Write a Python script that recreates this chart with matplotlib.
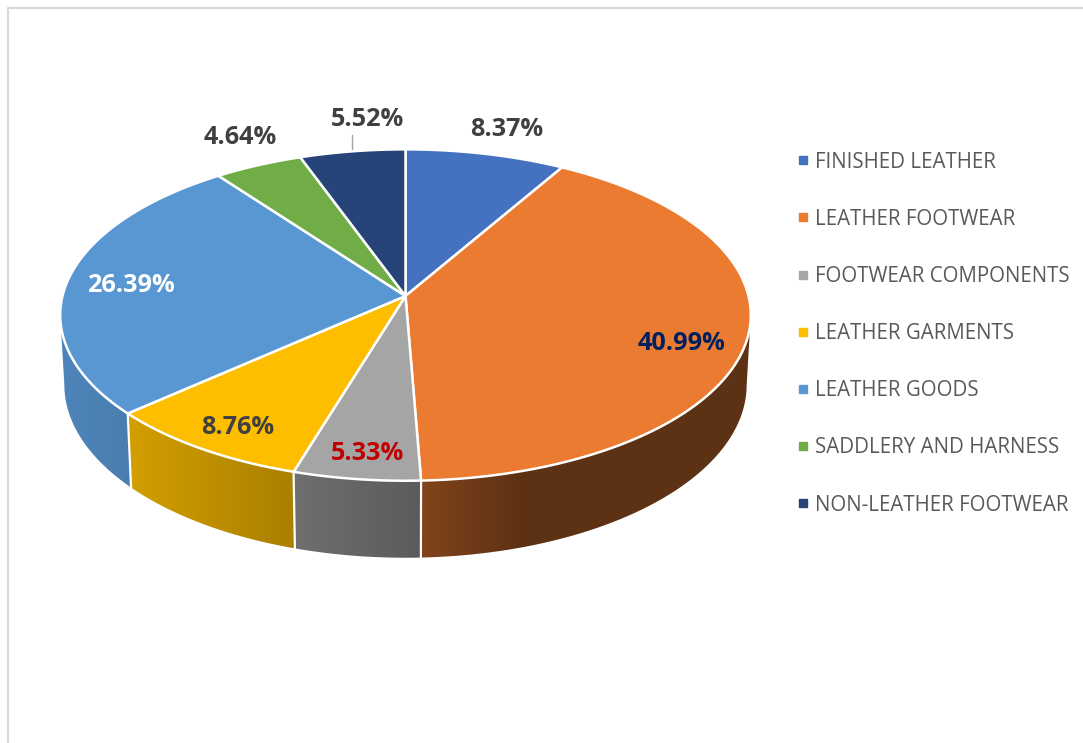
import numpy as np
import matplotlib.pyplot as plt
from matplotlib.colors import to_rgb
from matplotlib.lines import Line2D

categories = ['FINISHED LEATHER', 'LEATHER FOOTWEAR', 'FOOTWEAR COMPONENTS', 'LEATHER GARMENTS',
              'LEATHER GOODS', 'SADDLERY AND HARNESS', 'NON-LEATHER FOOTWEAR']
shares = [8.37, 40.99, 5.33, 8.76, 26.39, 4.64, 5.52]
colors = ['#4472C0', '#EA7B31', '#A5A5A5', '#FDBE00', '#5997D3', '#70AD47', '#264478']
label_colors = ['#404040', '#002060', '#C00000', '#404040', '#FFFFFF', '#404040', '#404040']
label_x = [507, 682, 367, 238, 131, 240, 367]
label_y = [130, 343, 454, 427, 286, 138, 120]

# side wall gets darker going right
shade_x = [60, 132, 295, 422, 520, 750]
shade_v = [0.88, 0.83, 0.67, 0.55, 0.40, 0.40]

plt.rcParams['font.family'] = ['Open Sans', 'DejaVu Sans']

# axes are in image pixels
fig = plt.figure(figsize=(10.83, 7.43), dpi=100)
ax = fig.add_axes([0, 0, 1, 1])
ax.axis('off')

# frame, only top and left are in the picture
ax.plot([8, 8, 1083], [743, 8, 8], color='#D9D9D9', lw=1.6)

cx, cy = 405.5, 296
rx, ry, persp = 343, 163.5, 0.115


def top_edge(theta):
    # circle seen in perspective, theta clockwise from 12 o'clock
    d = 1 + persp * np.cos(theta)
    return cx + rx * np.sin(theta) / d, cy - ry * np.cos(theta) / d


def bottom_edge(theta):
    x, y = top_edge(theta)
    return cx + 0.988 * (x - cx), y + 77 - 0.044 * (481 - y)


edges = np.cumsum([0] + shares) / 100 * 2 * np.pi

# walls first, the top covers whatever is behind
for i in range(len(shares)):
    ts = np.linspace(edges[i], edges[i + 1], 300)
    # widest point of the circle is a bit in front of its middle
    ts = ts[np.cos(ts) <= -persp]
    if len(ts) < 2:
        continue
    xt, yt = top_edge(ts)
    xb, yb = bottom_edge(ts)
    px = np.r_[xt, xb[::-1]]
    py = np.r_[yt, yb[::-1]]
    poly = ax.fill(px, py, color='none', lw=0, zorder=2)[0]
    grid = np.linspace(px.min(), px.max(), 256)
    grad = np.array(to_rgb(colors[i]))[None, None, :] * np.interp(grid, shade_x, shade_v)[None, :, None]
    im = ax.imshow(grad, extent=(px.min(), px.max(), py.max(), py.min()), aspect='auto',
                   interpolation='bilinear', zorder=2)
    im.set_clip_path(poly)

for e in edges:
    if np.cos(e) < -persp:
        xa, ya = top_edge(e)
        xb, yb = bottom_edge(e)
        ax.plot([xa, xb], [ya, yb], color='white', lw=1.6, zorder=3)

for i in range(len(shares)):
    ts = np.linspace(edges[i], edges[i + 1], 200)
    xs, ys = top_edge(ts)
    ax.fill(np.r_[cx, xs], np.r_[cy, ys], facecolor=colors[i], edgecolor='white', lw=1.8,
            joinstyle='round', zorder=4)

# leader line of the 5.52% label
ax.plot([352, 352], [135, 154], color='#A6A6A6', lw=1, zorder=3)

for i in range(len(shares)):
    ax.text(label_x[i], label_y[i], '%.2f%%' % shares[i], color=label_colors[i], fontsize=18.2,
            fontweight='bold', ha='center', va='center', zorder=5)

ax.set_xlim(0, 1083)
ax.set_ylim(743, 0)

handles = [Line2D([], [], ls='', marker='s', ms=5.2, color=c) for c in colors]
ax.legend(handles, categories, loc='upper left', bbox_to_anchor=(795, 151.5),
          bbox_transform=ax.transData, frameon=False, fontsize=14.8, labelcolor='#595959',
          labelspacing=1.76, handlelength=0.75, handletextpad=0.2, borderpad=0, borderaxespad=0)

fig.savefig('out.png', dpi=100)
